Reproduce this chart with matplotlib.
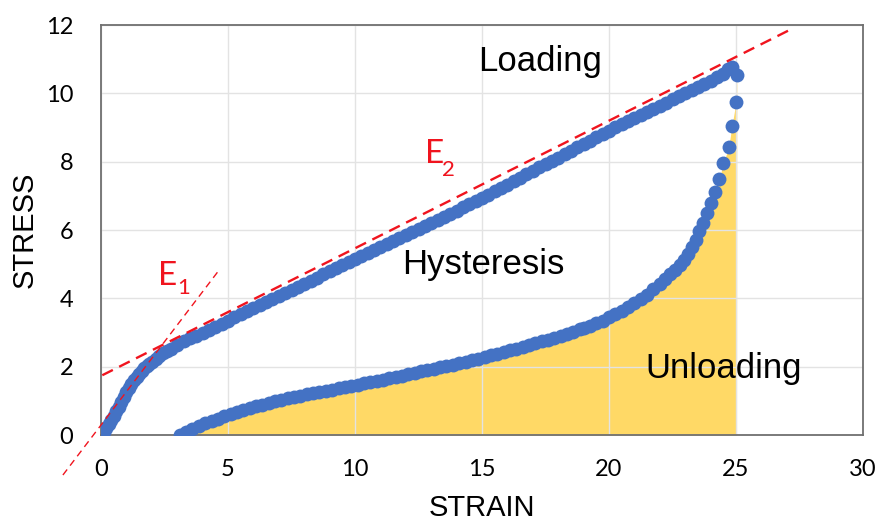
import matplotlib
matplotlib.use("Agg")
import matplotlib.pyplot as plt

# loading branch (strain, stress)
load_strain = [0.00, 0.10, 0.20, 0.30, 0.40, 0.50, 0.60, 0.70, 0.80, 0.90, 1.00, 1.10,
               1.20, 1.30, 1.40, 1.50, 1.60, 1.70, 1.80, 1.90, 2.00, 2.15, 2.30, 2.45,
               2.60, 2.75, 3.00, 3.25, 3.50, 3.75, 4.00, 4.25, 4.50, 4.75, 5.00, 5.25,
               5.50, 5.75, 6.00, 6.25, 6.50, 6.75, 7.00, 7.25, 7.50, 7.75, 8.00, 8.25,
               8.50, 8.75, 9.00, 9.25, 9.50, 9.75, 10.00, 10.25, 10.50, 10.75, 11.00, 11.25,
               11.50, 11.75, 12.00, 12.25, 12.50, 12.75, 13.00, 13.25, 13.50, 13.75, 14.00, 14.25,
               14.50, 14.75, 15.00, 15.25, 15.50, 15.75, 16.00, 16.25, 16.50, 16.75, 17.00, 17.25,
               17.50, 17.75, 18.00, 18.25, 18.50, 18.75, 19.00, 19.25, 19.50, 19.75, 20.00, 20.25,
               20.50, 20.75, 21.00, 21.25, 21.50, 21.75, 22.00, 22.25, 22.50, 22.75, 23.00, 23.25,
               23.50, 23.75, 24.00, 24.25, 24.50, 24.70, 24.85]
load_stress = [0.00, 0.10, 0.21, 0.32, 0.43, 0.55, 0.69, 0.83, 0.97, 1.11, 1.25, 1.37,
               1.49, 1.60, 1.71, 1.80, 1.88, 1.95, 2.02, 2.09, 2.15, 2.23, 2.31, 2.39,
               2.46, 2.53, 2.64, 2.74, 2.83, 2.91, 2.99, 3.08, 3.17, 3.26, 3.35, 3.44,
               3.53, 3.62, 3.71, 3.80, 3.89, 3.98, 4.07, 4.16, 4.25, 4.34, 4.43, 4.52,
               4.61, 4.70, 4.79, 4.88, 4.97, 5.06, 5.15, 5.24, 5.32, 5.41, 5.50, 5.59,
               5.67, 5.76, 5.85, 5.94, 6.03, 6.12, 6.21, 6.30, 6.39, 6.48, 6.57, 6.66,
               6.75, 6.84, 6.93, 7.03, 7.13, 7.23, 7.33, 7.43, 7.53, 7.63, 7.73, 7.83,
               7.93, 8.02, 8.12, 8.22, 8.32, 8.42, 8.52, 8.61, 8.71, 8.81, 8.91, 9.01,
               9.10, 9.19, 9.28, 9.37, 9.46, 9.55, 9.64, 9.73, 9.82, 9.91, 10.00, 10.09,
               10.18, 10.28, 10.37, 10.47, 10.58, 10.70, 10.78]

# unloading branch, ordered by increasing strain
unload_strain = [3.10, 3.35, 3.60, 3.85, 4.10, 4.35, 4.60, 4.85, 5.10, 5.35, 5.60, 5.85,
                 6.10, 6.35, 6.60, 6.85, 7.10, 7.35, 7.60, 7.85, 8.10, 8.35, 8.60, 8.85,
                 9.10, 9.35, 9.60, 9.85, 10.10, 10.35, 10.60, 10.85, 11.10, 11.35, 11.60, 11.85,
                 12.10, 12.35, 12.60, 12.85, 13.10, 13.35, 13.60, 13.85, 14.10, 14.35, 14.60, 14.85,
                 15.10, 15.35, 15.60, 15.85, 16.10, 16.35, 16.60, 16.85, 17.10, 17.35, 17.60, 17.85,
                 18.10, 18.35, 18.60, 18.85, 19.00, 19.25, 19.50, 19.75, 20.00, 20.25, 20.50, 20.75,
                 21.00, 21.25, 21.50, 21.75, 22.00, 22.20, 22.40, 22.60, 22.78, 22.96, 23.12, 23.27,
                 23.42, 23.56, 23.70, 23.84, 24.00, 24.18, 24.34, 24.50, 24.71, 24.84, 25.00, 25.03]
unload_stress = [0.00, 0.09, 0.18, 0.26, 0.34, 0.41, 0.48, 0.55, 0.61, 0.67, 0.73, 0.79,
                 0.84, 0.89, 0.94, 0.99, 1.03, 1.07, 1.11, 1.15, 1.19, 1.23, 1.26, 1.30,
                 1.33, 1.37, 1.40, 1.44, 1.47, 1.51, 1.55, 1.58, 1.62, 1.66, 1.70, 1.74,
                 1.78, 1.82, 1.86, 1.90, 1.94, 1.98, 2.02, 2.06, 2.10, 2.14, 2.19, 2.23,
                 2.28, 2.33, 2.38, 2.43, 2.48, 2.53, 2.58, 2.63, 2.68, 2.74, 2.79, 2.85,
                 2.91, 2.97, 3.03, 3.10, 3.13, 3.20, 3.27, 3.35, 3.44, 3.54, 3.64, 3.75,
                 3.86, 3.98, 4.11, 4.26, 4.42, 4.56, 4.70, 4.83, 4.97, 5.12, 5.29, 5.50,
                 5.72, 5.96, 6.21, 6.49, 6.78, 7.12, 7.50, 7.95, 8.42, 9.05, 9.75, 10.54]

# modulus lines
e1_x = [-1.5, 4.6]
e1_y = [-1.17, 4.78]
e2_x = [0.05, 27.23]
e2_y = [1.75, 11.9]

x_ticks = [0, 5, 10, 15, 20, 25, 30]
y_ticks = [0, 2, 4, 6, 8, 10, 12]

blue = '#4472C4'
red = '#F0141E'
label_font = 'Liberation Sans'
num_font = 'Lato'

fig = plt.figure(figsize=(8.9, 5.21), dpi=100)
ax = fig.add_axes([0.1135, 0.165, 0.8562, 0.787])

# hysteresis energy under the unloading curve
ax.fill_between(unload_strain + [25.02], unload_stress + [0.0], 0,
                color='#FFD966', linewidth=0, zorder=1)

ax.plot(load_strain, load_stress, 'o', color=blue, ms=10, mec='none', zorder=3)
ax.plot(unload_strain, unload_stress, 'o', color=blue, ms=10, mec='none', zorder=3)

ax.plot(e1_x, e1_y, '--', color=red, lw=1.0, dashes=(5, 3.5), clip_on=False, zorder=4)
ax.plot(e2_x, e2_y, '--', color=red, lw=1.7, dashes=(5, 3), clip_on=False, zorder=4)

ax.set_xlim(0, 30)
ax.set_ylim(0, 12)
ax.set_xticks(x_ticks)
ax.set_yticks(y_ticks)
ax.grid(True, color='#E3E3E3', lw=1.0)
ax.tick_params(length=0, labelsize=17)
ax.tick_params(axis='x', pad=17)
ax.tick_params(axis='y', pad=20)
for lbl in ax.get_xticklabels() + ax.get_yticklabels():
    lbl.set_family(num_font)
for s in ax.spines.values():
    s.set_color('#707070')
    s.set_linewidth(1.3)

ax.set_xlabel('STRAIN', fontsize=21, family=label_font, labelpad=10)
ax.set_ylabel('STRESS', fontsize=21, family=label_font, labelpad=5)

ax.text(17.28, 10.92, 'Loading', fontsize=25, family=label_font, ha='center', va='center')
ax.text(15.04, 4.98, 'Hysteresis', fontsize=25, family=label_font, ha='center', va='center')
ax.text(24.53, 1.96, 'Unloading', fontsize=25, family=label_font, ha='center', va='center')

ax.text(2.24, 4.39, 'E', fontsize=24, color=red, family=num_font, ha='left', va='baseline')
ax.text(2.99, 4.13, '1', fontsize=16, color=red, family=num_font, ha='left', va='baseline')
ax.text(12.76, 7.96, 'E', fontsize=24, color=red, family=num_font, ha='left', va='baseline')
ax.text(13.43, 7.58, '2', fontsize=16, color=red, family=num_font, ha='left', va='baseline')

fig.savefig('out.png', dpi=100)
